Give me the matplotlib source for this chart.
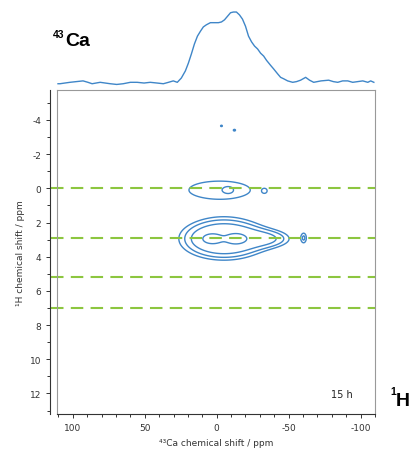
import numpy as np
import matplotlib
matplotlib.use('Agg')
import matplotlib.pyplot as plt
from matplotlib.ticker import MultipleLocator

# 1D 43Ca projection (ppm, relative intensity)
proj_ppm = [110.3, 108.9, 105.5, 102.0, 97.5, 92.9, 89.5, 86.6, 81.0, 77.5, 74.0, 69.5,
            65.0, 60.0, 55.3, 50.5, 46.2, 41.5, 37.1, 33.5, 30.2,
            27.4, 24.6, 21.8, 19.7, 17.6, 15.5, 13.4, 11.3, 9.3, 7.2, 4.4, 1.6, -1.2,
            -3.3, -5.4, -7.5, -9.6, -11.6, -13.7, -15.8, -17.9, -20.0, -22.1, -24.2,
            -26.3, -28.4, -30.5, -32.6, -34.6, -37.4, -39.5, -42.3, -44.4, -46.5,
            -49.3, -52.8, -55.5, -58.3, -61.8, -64.5, -67.4, -72.5, -77.8, -81.0, -84.1,
            -87.5, -91.1, -94.5, -98.0, -101.5, -105.0, -107.0, -109.2]
proj_int = [-0.01, -0.01, 0.0, 0.01, 0.02, 0.03, 0.01, -0.01, 0.01, 0.0, -0.01, -0.02,
            -0.01, 0.01, 0.01, 0.0, 0.01, 0.0, -0.01, 0.01, 0.03,
            0.01, 0.07, 0.17, 0.28, 0.41, 0.55, 0.66, 0.73, 0.79, 0.82, 0.85, 0.85, 0.85,
            0.86, 0.89, 0.94, 0.99, 1.00, 1.00, 0.96, 0.90, 0.80, 0.66, 0.58,
            0.52, 0.48, 0.42, 0.38, 0.32, 0.25, 0.20, 0.13, 0.08, 0.06,
            0.03, 0.01, 0.02, 0.04, 0.08, 0.04, 0.01, 0.03, 0.04, 0.02, 0.01,
            0.03, 0.03, 0.01, 0.02, 0.03, 0.01, 0.03, 0.01]

# 2D peaks: Ca shift, H shift, Ca width, H width, height
pk_ca = [4, -14, -5, -35, -60.5, -2, -8.2, -33.3, -3.3, -12.3]
pk_h = [2.95, 2.95, 2.95, 2.95, 2.9, 0.1, 0.1, 0.15, -3.65, -3.4]
pk_wca = [5, 5, 18, 12, 1.8, 27, 2.5, 1.5, 1.1, 1.1]
pk_wh = [0.22, 0.22, 0.72, 0.35, 0.28, 0.66, 0.15, 0.12, 0.07, 0.07]
pk_amp = [0.55, 0.55, 0.5, 0.2, 0.15, 0.15, 0.05, 0.075, 0.13, 0.14]
levels = [0.11, 0.16, 0.24, 0.65]

guide_h = [0, 2.9, 5.2, 7.0]

ca = np.linspace(-115, 115, 700)
hh = np.linspace(-6, 14, 700)
CA, HH = np.meshgrid(ca, hh)
Z = np.zeros_like(CA)
for x0, y0, sx, sy, a in zip(pk_ca, pk_h, pk_wca, pk_wh, pk_amp):
    Z += a * np.exp(-(CA - x0)**2 / (2 * sx**2) - (HH - y0)**2 / (2 * sy**2))

blue = '#3f86c8'
green = '#8cc63f'

fig = plt.figure(figsize=(4.15, 4.56), dpi=100)
ax = fig.add_axes([57/415, 1 - 415/456, 318/415, 324/456])
top = fig.add_axes([57/415, 1 - 88/456, 318/415, 83/456], sharex=ax)

ax.contour(CA, HH, Z, levels=levels, colors=blue, linewidths=1.0)
for y in guide_h:
    ax.axhline(y, xmin=-0.02, xmax=1, color=green, lw=1.5, dashes=(6, 3.5), clip_on=False)

ax.set_xlim(111, -110)
ax.set_ylim(13.2, -5.75)
ax.xaxis.set_minor_locator(MultipleLocator(10))
ax.yaxis.set_minor_locator(MultipleLocator(1))
ax.tick_params(which='both', direction='out', labelsize=6.5, colors='#333333', width=0.7)
ax.tick_params(which='major', length=3)
ax.tick_params(which='minor', length=2)
ax.set_yticks([-4, -2, 0, 2, 4, 6, 8, 10, 12])
ax.set_yticklabels(['-4', '-2', '0', '2', '4', '6', '8', '10', '12'])
ax.set_xticks([100, 50, 0, -50, -100])
ax.set_xticklabels(['100', '50', '0', '-50', '-100'])

for s in ['top', 'right']:
    ax.spines[s].set_color('#999999')
    ax.spines[s].set_linewidth(0.8)
ax.spines['bottom'].set_color('#333333')
ax.spines['left'].set_color('#333333')
ax.spines['left'].set_position(('outward', 5))
ax.plot([0, 0], [0, 1], transform=ax.transAxes, color='#999999', lw=0.8, clip_on=False)

ax.set_xlabel('⁴³Ca chemical shift / ppm', fontsize=6.5, color='#333333', labelpad=4)
ax.set_ylabel('¹H chemical shift / ppm', fontsize=6.5, color='#333333', labelpad=3)
ax.text(0.93, 0.045, '15 h', transform=ax.transAxes, fontsize=7, ha='right', va='bottom',
        color='#222222')

top.plot(proj_ppm, proj_int, color=blue, lw=1.0)
top.set_ylim(-0.056, 1.113)
top.axis('off')

fig.text(53/415, 1 - 38/456, '43', fontsize=7.5, fontweight='bold', family='Liberation Sans')
fig.text(65/415, 1 - 46/456, 'Ca', fontsize=14, fontweight='bold', family='Liberation Sans')
fig.text(390/415, 1 - 395/456, '1', fontsize=7.5, fontweight='bold', family='Liberation Sans')
fig.text(396/415, 1 - 406/456, 'H', fontsize=14, fontweight='bold', family='Liberation Sans')

fig.savefig('out.png', dpi=100)
